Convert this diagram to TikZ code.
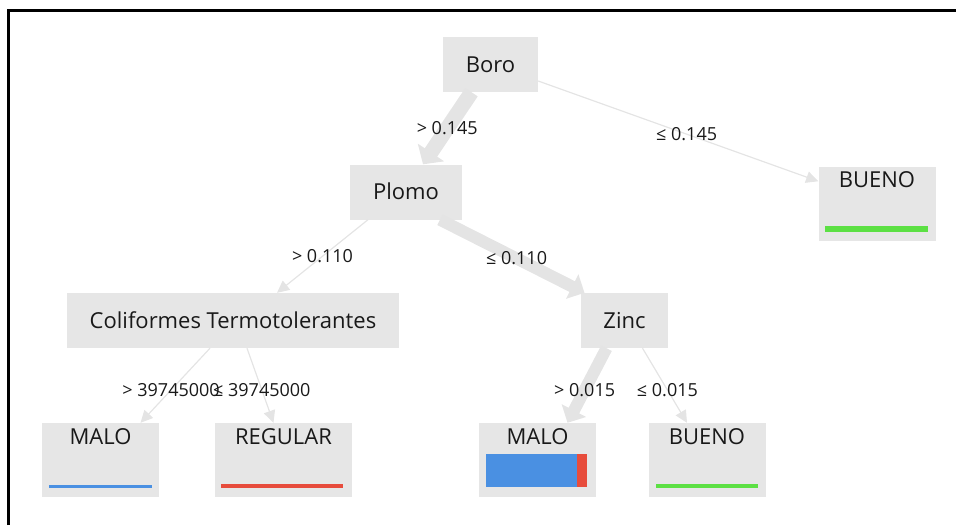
\documentclass[tikz,border=0pt]{standalone}
\usepackage{fontspec}
\setmainfont{Open Sans}
\usetikzlibrary{arrows.meta}

\definecolor{boxgray}{HTML}{E6E6E6}
\definecolor{linkgray}{HTML}{E4E4E4}
\definecolor{malocol}{HTML}{4A90E2}
\definecolor{regcol}{HTML}{E74C3C}
\definecolor{buenocol}{HTML}{5CE044}

\begin{document}
\begin{tikzpicture}[x=1pt, y=-1pt,
    testbox/.style={fill=boxgray, minimum height=55pt, inner xsep=20pt, text height=15.5pt, text depth=0pt, text=black!90, font=\fontsize{22}{25}\selectfont},
    leafbox/.style={fill=boxgray, minimum width=117pt, inner ysep=5pt, text height=16pt, text depth=48pt, text=black!90, font=\fontsize{22}{25}\selectfont},
    link/.style={draw=linkgray, line width=#1, -{Triangle[length=12pt 0.15, width=10pt 1.4]}},
    link/.default=1.2pt,
    cond/.style={font=\fontsize{18}{20}\selectfont, text=black!90, inner sep=1pt}]
    \useasboundingbox (0,0) rectangle (956,525);
    \draw[line width=3pt] (8.5,525) -- (8.5,10) -- (956,10);

    % Nodes
    \node[testbox, minimum width=95pt] (boro) at (490.5,64.5) {Boro};
    \node[testbox, minimum width=112pt] (plomo) at (406,192) {Plomo};
    \node[leafbox] (bueno1) at (877,203.5) {BUENO};
    \node[testbox, minimum width=332pt] (colif) at (233,320.5) {Coliformes Termotolerantes};
    \node[testbox, minimum width=87pt] (zinc) at (624.5,320.5) {Zinc};
    \node[leafbox] (malo1) at (100.5,460) {MALO};
    \node[leafbox, minimum width=137pt] (regular) at (283.5,460) {REGULAR};
    \node[leafbox] (malo2) at (537.5,460) {MALO};
    \node[leafbox] (bueno2) at (707,460) {BUENO};

    % Class bars
    \fill[buenocol] ([shift={(7pt,9pt)}]bueno1.south west) rectangle ([shift={(-8pt,15pt)}]bueno1.south east);
    \fill[malocol] ([shift={(7pt,9.5pt)}]malo1.south west) rectangle ([shift={(-7pt,12.5pt)}]malo1.south east);
    \fill[regcol] ([shift={(6pt,9pt)}]regular.south west) rectangle ([shift={(-9pt,13pt)}]regular.south east);
    \fill[malocol] ([shift={(7pt,10pt)}]malo2.south west) rectangle ([shift={(-19pt,43pt)}]malo2.south east);
    \fill[regcol] ([shift={(-19pt,10pt)}]malo2.south east) rectangle ([shift={(-9pt,43pt)}]malo2.south east);
    \fill[buenocol] ([shift={(8pt,9pt)}]bueno2.south west) rectangle ([shift={(-8pt,13pt)}]bueno2.south east);

    % Arrows
    \draw[link=15pt] ([xshift=-19pt]boro.south) -- node[cond, pos=.5] (c1) {> 0.145} ([xshift=17pt]plomo.north);
    \draw[link] ([yshift=-16.5pt]boro.east) -- node[cond, pos=.53] (c2) {≤ 0.145} ([yshift=-15pt]bueno1.north west);
    \draw[link] ([xshift=-38pt]plomo.south) -- node[cond, pos=.5] (c3) {> 0.110} ([xshift=44pt]colif.north);
    \draw[link=12pt] ([xshift=34pt]plomo.south) -- node[cond, pos=.53] (c4) {≤ 0.110} ([xshift=-40pt]zinc.north);
    \draw[link] ([xshift=-23pt]colif.south) -- node[cond, pos=.56] (c5) {> 39745000} ([xshift=40pt]malo1.north);
    \draw[link] ([xshift=14pt]colif.south) -- node[cond, pos=.56] (c6) {≤ 39745000} ([xshift=-10pt]regular.north);
    \draw[link=12pt] ([xshift=-18pt]zinc.south) -- node[cond, pos=.56] (c7) {> 0.015} ([xshift=30pt]malo2.north);
    \draw[link] ([xshift=18pt]zinc.south) -- node[cond, pos=.56] (c8) {≤ 0.015} ([xshift=-20pt]bueno2.north);
\end{tikzpicture}
\end{document}
